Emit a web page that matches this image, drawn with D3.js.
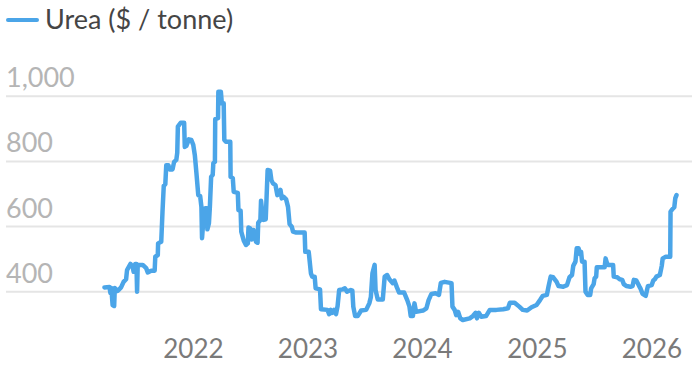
<!DOCTYPE html>
<html>
<head>
<meta charset="utf-8">
<script src="https://cdn.jsdelivr.net/npm/d3@7"></script>
<style>
  html, body { margin: 0; padding: 0; background: #fff; }
  svg { display: block; font-family: Lato, "Open Sans", sans-serif; }
</style>
</head>
<body>
<div id="chart"></div>
<script>
// weekly-ish urea prices
const dates = [
  '2021-03-25','2021-04-10','2021-04-13','2021-04-16','2021-04-20','2021-04-25','2021-04-27','2021-05-06',
  '2021-05-17','2021-05-25','2021-06-02','2021-06-05','2021-06-16','2021-06-23','2021-06-26','2021-07-01',
  '2021-07-05','2021-07-07','2021-07-09','2021-07-25','2021-08-05','2021-08-10','2021-08-21','2021-09-01',
  '2021-09-03','2021-09-11','2021-09-12','2021-09-22','2021-09-26','2021-09-30','2021-10-05','2021-10-08',
  '2021-10-15','2021-10-18','2021-10-28','2021-11-02','2021-11-09','2021-11-12','2021-11-14','2021-11-23',
  '2021-12-04','2021-12-06','2021-12-11','2021-12-19','2021-12-27','2022-01-02','2022-01-07','2022-01-12',
  '2022-01-18','2022-01-24','2022-01-28','2022-01-30','2022-02-05','2022-02-09','2022-02-14','2022-02-16',
  '2022-02-21','2022-02-24','2022-02-28','2022-03-05','2022-03-07','2022-03-12','2022-03-13','2022-03-22',
  '2022-03-23','2022-03-31','2022-04-03','2022-04-09','2022-04-11','2022-04-16','2022-04-30','2022-05-01',
  '2022-05-08','2022-05-11','2022-05-24','2022-05-26','2022-06-02','2022-06-04','2022-06-12','2022-06-19',
  '2022-06-25','2022-06-27','2022-07-03','2022-07-07','2022-07-13','2022-07-21','2022-07-26','2022-07-28',
  '2022-08-04','2022-08-06','2022-08-11','2022-08-14','2022-08-21','2022-08-27','2022-09-04','2022-09-08',
  '2022-09-13','2022-09-21','2022-09-27','2022-10-07','2022-10-11','2022-10-17','2022-10-25','2022-10-31',
  '2022-11-05','2022-11-12','2022-11-16','2022-11-26','2022-12-23','2022-12-25','2023-01-05','2023-01-12',
  '2023-01-16','2023-01-24','2023-01-27','2023-02-10','2023-02-13','2023-03-06','2023-03-11','2023-03-16',
  '2023-03-21','2023-03-27','2023-04-02','2023-04-07','2023-04-12','2023-04-23','2023-04-30','2023-05-07',
  '2023-05-19','2023-05-24','2023-05-27','2023-06-02','2023-06-10','2023-06-21','2023-07-07','2023-07-17',
  '2023-07-22','2023-07-27','2023-08-03','2023-08-06','2023-08-13','2023-08-29','2023-09-04','2023-09-12',
  '2023-09-19','2023-09-30','2023-10-05','2023-10-13','2023-10-20','2023-11-05','2023-11-15','2023-11-22',
  '2023-11-26','2023-12-03','2023-12-08','2023-12-13','2024-01-04','2024-01-15','2024-01-22','2024-01-31',
  '2024-02-13','2024-02-24','2024-03-01','2024-03-13','2024-04-04','2024-04-07','2024-04-14','2024-04-19',
  '2024-04-25','2024-05-02','2024-05-10','2024-06-01','2024-06-11','2024-06-20','2024-06-24','2024-06-30',
  '2024-07-08','2024-07-23','2024-08-04','2024-08-25','2024-09-16','2024-10-01','2024-10-07','2024-10-22',
  '2024-11-06','2024-11-17','2024-12-01','2024-12-15','2024-12-31','2025-01-11','2025-01-20','2025-02-02',
  '2025-02-07','2025-02-14','2025-02-22','2025-03-05','2025-03-11','2025-03-26','2025-04-07','2025-04-15',
  '2025-04-23','2025-04-27','2025-05-04','2025-05-08','2025-05-14','2025-05-19','2025-05-22','2025-05-25',
  '2025-06-02','2025-06-05','2025-06-12','2025-06-20','2025-06-23','2025-07-01','2025-07-04','2025-07-09',
  '2025-07-11','2025-08-05','2025-08-08','2025-08-12','2025-08-15','2025-09-01','2025-09-03','2025-09-14',
  '2025-09-22','2025-09-30','2025-10-05','2025-10-13','2025-10-26','2025-11-02','2025-11-06','2025-11-14',
  '2025-11-23','2025-11-27','2025-12-04','2025-12-14','2025-12-18','2025-12-21','2026-01-02','2026-01-07',
  '2026-01-12','2026-01-17','2026-01-28','2026-02-03','2026-02-06','2026-02-16','2026-03-02','2026-03-03',
  '2026-03-08','2026-03-15','2026-03-18','2026-03-22'
];

const prices = [
  412, 413, 395, 410, 358, 355, 410, 401,
  412, 429, 437, 465, 484, 475, 460, 484,
  484, 399, 481, 481, 471, 458, 463, 463,
  506, 511, 547, 552, 644, 723, 729, 787,
  787, 774, 774, 797, 803, 825, 905, 917,
  917, 843, 846, 866, 864, 849, 818, 764,
  695, 692, 659, 563, 639, 655, 655, 590,
  609, 659, 751, 757, 793, 797, 928, 931,
  1012, 1012, 977, 977, 864, 859, 859, 751,
  747, 705, 702, 649, 647, 583, 555, 542,
  547, 596, 593, 559, 588, 552, 549, 610,
  619, 678, 634, 619, 621, 772, 770, 741,
  731, 726, 695, 711, 685, 690, 682, 659,
  606, 598, 583, 580, 580, 521, 521, 455,
  445, 445, 409, 406, 345, 343, 330, 343,
  334, 343, 330, 355, 404, 406, 409, 399,
  404, 402, 353, 324, 324, 341, 343, 363,
  382, 455, 481, 404, 375, 375, 445, 450,
  437, 425, 433, 412, 396, 396, 373, 353,
  324, 324, 363, 337, 341, 348, 373, 392,
  394, 389, 426, 429, 425, 353, 343, 327,
  337, 317, 312, 317, 324, 334, 317, 334,
  322, 324, 343, 343, 345, 348, 365, 365,
  353, 343, 341, 351, 358, 373, 386, 389,
  414, 445, 443, 429, 416, 414, 419, 443,
  450, 478, 491, 532, 532, 514, 521, 491,
  491, 399, 389, 389, 409, 422, 440, 445,
  474, 474, 501, 488, 481, 481, 445, 443,
  437, 435, 422, 416, 414, 416, 435, 433,
  416, 409, 392, 386, 404, 416, 419, 433,
  437, 445, 450, 478, 501, 506, 506, 644,
  651, 658, 685, 695
];

const yTicks = [400, 600, 800, 1000];
const yearTicks = ['2022', '2023', '2024', '2025', '2026'];
const seriesName = 'Urea ($ / tonne)';

const width = 692;
const height = 372;
const lineColor = '#4ba5e8';

const parseDate = d3.timeParse('%Y-%m-%d');
const data = dates.map((d, i) => ({ date: parseDate(d), value: prices[i] }));

const svg = d3
  .select('#chart')
  .append('svg')
  .attr('width', width)
  .attr('height', height);

const x = d3
  .scaleTime()
  .domain([new Date(2021, 0, 1), new Date(2026, 0, 1)])
  .range([78.4, 651.4]);

const y = d3.scaleLinear().domain([400, 1000]).range([291.3, 95.7]);

// gridlines + y labels sitting above them
const yAxis = svg
  .append('g')
  .attr('transform', 'translate(6,0)')
  .call(
    d3
      .axisRight(y)
      .tickValues(yTicks)
      .tickSize(width - 6)
      .tickFormat(d3.format(','))
  );
yAxis.select('.domain').remove();
yAxis.selectAll('line').attr('stroke', '#e5e5e5').attr('stroke-width', 2);
yAxis
  .selectAll('text')
  .attr('x', 0)
  .attr('dy', -9)
  .attr('text-anchor', 'start')
  .attr('fill', '#b5b5b5')
  .attr('font-size', '27px')
  .attr('font-family', 'Lato, sans-serif');

const xAxis = svg
  .append('g')
  .attr('transform', 'translate(0,338)')
  .call(
    d3
      .axisBottom(x)
      .tickValues(yearTicks.map((t) => new Date(+t, 0, 1)))
      .tickSize(0)
      .tickFormat(d3.timeFormat('%Y'))
  );
xAxis.select('.domain').remove();
xAxis
  .selectAll('text')
  .attr('fill', '#7a7a7a')
  .attr('font-size', '26px')
  .attr('font-family', 'Lato, sans-serif')
  .attr('dy', '0.71em')
  .attr('y', 2);

const line = d3
  .line()
  .x((d) => x(d.date))
  .y((d) => y(d.value));

svg
  .append('path')
  .datum(data)
  .attr('d', line)
  .attr('fill', 'none')
  .attr('stroke', lineColor)
  .attr('stroke-width', 4.5)
  .attr('stroke-linejoin', 'round')
  .attr('stroke-linecap', 'round');

// legend
const legend = svg.append('g').attr('transform', 'translate(8,20)');
legend
  .append('line')
  .attr('x1', 0)
  .attr('x2', 29)
  .attr('stroke', lineColor)
  .attr('stroke-width', 4)
  .attr('stroke-linecap', 'round');
legend
  .append('text')
  .attr('x', 37)
  .attr('y', 9)
  .attr('fill', '#454545')
  .attr('font-size', '27px')
  .attr('font-family', 'Lato, sans-serif')
  .text(seriesName);
</script>
</body>
</html>
